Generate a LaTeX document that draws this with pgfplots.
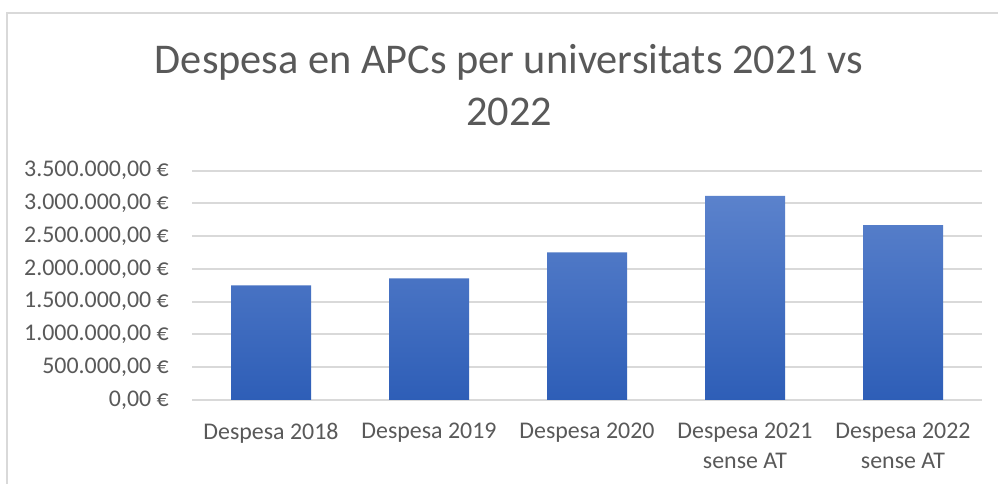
\documentclass[border=0pt]{standalone}
\usepackage{fontspec}
\setmainfont{Carlito}
\usepackage{pgfplots}
\pgfplotsset{compat=1.18}
\definecolor{txt}{HTML}{595959}
\definecolor{gridc}{HTML}{D9D9D9}
\definecolor{bartop}{HTML}{5B82CC}
\definecolor{barbot}{HTML}{2E5EB7}
\begin{document}
\begin{tikzpicture}[x=1bp,y=1bp]
\useasboundingbox (0,0) rectangle (998,484);
\fill[white] (0,0) rectangle (998,484);
\draw[gridc, line width=1.2bp] (7,0) -- (7,471) -- (998,471);
\node[anchor=base, text=txt, font=\fontsize{42.5}{50}\selectfont, inner sep=0pt] at (509,410) {Despesa en APCs per universitats 2021 vs};
\node[anchor=base, text=txt, font=\fontsize{42.5}{50}\selectfont, inner sep=0pt] at (509,358) {2022};
\begin{axis}[
  at={(192bp,84bp)}, anchor=south west,
  scale only axis, width=790bp, height=229.3bp,
  xmin=-0.5, xmax=4.5, ymin=0, ymax=3500000,
  axis line style={draw=none},
  tick style={draw=none},
  scaled y ticks=false,
  ytick={0,500000,1000000,1500000,2000000,2500000,3000000,3500000},
  yticklabels={{0,00 €},{500.000,00 €},{1.000.000,00 €},{1.500.000,00 €},{2.000.000,00 €},{2.500.000,00 €},{3.000.000,00 €},{3.500.000,00 €}},
  xtick={0,1,2,3,4},
  xticklabels={{Despesa 2018},{Despesa 2019},{Despesa 2020},{Despesa 2021\\sense AT},{Despesa 2022\\sense AT}},
  xmajorgrids=false,
  ymajorgrids=true,
  major grid style={draw=gridc, line width=2bp},
  yticklabel style={font=\fontsize{24}{28}\selectfont, text=txt, inner sep=0pt, anchor=east, xshift=-23bp},
  xticklabel style={font=\fontsize{24}{29.5}\selectfont, text=txt, inner sep=0pt, anchor=north, yshift=-23bp, align=center},
  clip=false,
]
\addplot[ybar, bar width=80bp, draw=none, top color=bartop, bottom color=barbot]
  coordinates {(0,1750000) (1,1857000) (2,2255000) (3,3115000) (4,2671000)};
\end{axis}
\end{tikzpicture}
\end{document}
